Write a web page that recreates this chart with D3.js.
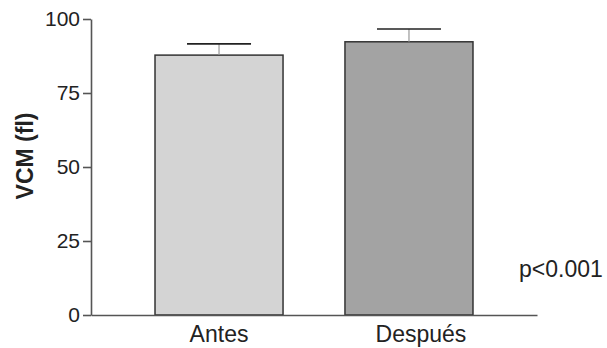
<!DOCTYPE html>
<html>
<head>
<meta charset="utf-8">
<script src="https://cdn.jsdelivr.net/npm/d3@7"></script>
<style>
  body { margin: 0; background: #fff; }
  text { font-family: "Liberation Sans", Arial, sans-serif; fill: #222; }
</style>
</head>
<body>
<div id="chart"></div>
<script>
// --------------- Data ---------------
const categories = ["Antes", "Después"];
const means = [87.8, 92.3];
const errors = [3.8, 4.3];
const yTicks = [0, 25, 50, 75, 100];
const fills = ["#d4d4d4", "#a3a3a3"];

const WIDTH = 607;
const HEIGHT = 348;
const AXIS_COLOR = "#555";

const svg = d3
  .select("#chart")
  .append("svg")
  .attr("width", WIDTH)
  .attr("height", HEIGHT);

// --------------- Scales ---------------
const x = d3
  .scaleBand()
  .domain(categories)
  .range([91, 537])
  .paddingInner(0.326)
  .paddingOuter(0.337);

const y = d3.scaleLinear().domain([0, 100]).range([315, 19]);

// --------------- Bars ---------------
svg
  .append("g")
  .selectAll("rect")
  .data(categories)
  .enter()
  .append("rect")
  .attr("x", d => x(d))
  .attr("y", (d, i) => y(means[i]))
  .attr("width", x.bandwidth())
  .attr("height", (d, i) => y(0) - y(means[i]))
  .attr("fill", (d, i) => fills[i])
  .attr("stroke", "#333")
  .attr("stroke-width", 1.5);

// Error bars: thin stem + half-width cap
const err = svg.append("g").selectAll("g").data(categories).enter().append("g");

err
  .append("line")
  .attr("x1", d => x(d) + x.bandwidth() / 2)
  .attr("x2", d => x(d) + x.bandwidth() / 2)
  .attr("y1", (d, i) => y(means[i]))
  .attr("y2", (d, i) => y(means[i] + errors[i]))
  .attr("stroke", "#999")
  .attr("stroke-width", 1.2);

err
  .append("line")
  .attr("x1", d => x(d) + x.bandwidth() / 4)
  .attr("x2", d => x(d) + (x.bandwidth() * 3) / 4)
  .attr("y1", (d, i) => y(means[i] + errors[i]))
  .attr("y2", (d, i) => y(means[i] + errors[i]))
  .attr("stroke", "#222")
  .attr("stroke-width", 1.6);

// --------------- Axes ---------------
const yAxis = svg
  .append("g")
  .attr("transform", "translate(91,0)")
  .call(d3.axisLeft(y).tickValues(yTicks).tickSize(8).tickSizeOuter(0).tickPadding(3));

yAxis.selectAll("path, line").attr("stroke", AXIS_COLOR).attr("stroke-width", 1.6);
yAxis.selectAll("text").attr("font-size", 21).attr("fill", "#222");

const xAxis = svg
  .append("g")
  .attr("transform", "translate(0,315)")
  .call(d3.axisBottom(x).tickSize(0).tickSizeOuter(0).tickPadding(11));

xAxis.select("path").attr("stroke", AXIS_COLOR).attr("stroke-width", 1.6);
// the second label sits a bit right of its bar in the original
xAxis
  .selectAll("text")
  .attr("font-size", 23)
  .attr("fill", "#222")
  .attr("dx", (d, i) => (i === 1 ? 12 : 0));

// --------------- Labels ---------------
svg
  .append("text")
  .attr("transform", "translate(33,156) rotate(-90)")
  .attr("text-anchor", "middle")
  .attr("font-size", 23)
  .attr("font-weight", "bold")
  .text("VCM (fl)");

svg
  .append("text")
  .attr("x", 519)
  .attr("y", 277)
  .attr("font-size", 23)
  .text("p<0.001");
</script>
</body>
</html>
